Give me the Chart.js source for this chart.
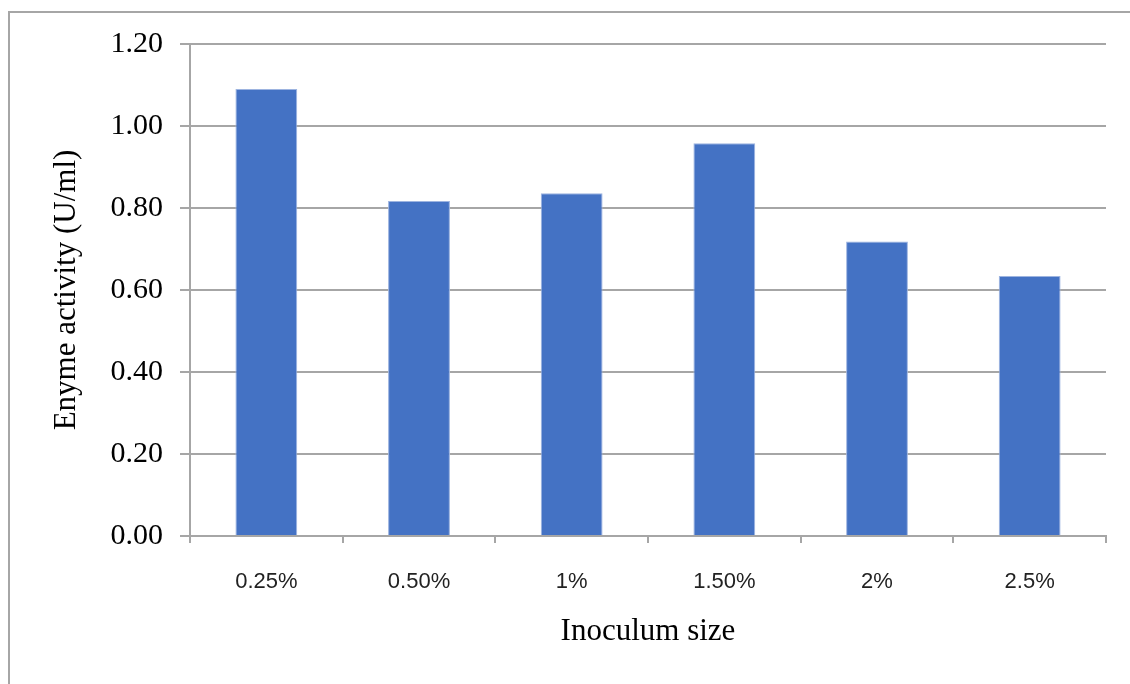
<!DOCTYPE html>
<html>
<head>
<meta charset="utf-8">
<script src="https://cdn.jsdelivr.net/npm/chart.js@4.4.1/dist/chart.umd.min.js"></script>
<style>
  html, body { margin: 0; padding: 0; background: #fff; }
  #wrap { position: relative; width: 1130px; height: 684px; overflow: hidden; }
  #frame { position: absolute; left: 8px; top: 11px; width: 1130px; height: 700px;
           border-top: 2px solid #a6a6a6; border-left: 2px solid #a6a6a6; box-sizing: border-box; }
  #chart { position: absolute; left: 0; top: 0; }
</style>
</head>
<body>
<div id="wrap">
  <div id="frame"></div>
  <canvas id="chart" width="1130" height="684"></canvas>
</div>
<script>
// dados
const categories = ["0.25%", "0.50%", "1%", "1.50%", "2%", "2.5%"];
const activity = [1.09, 0.817, 0.836, 0.958, 0.718, 0.634];
const yTicks = [0, 0.2, 0.4, 0.6, 0.8, 1.0, 1.2];

const xTitle = "Inoculum size";
const yTitle = "Enyme activity (U/ml)";

const ctx = document.getElementById('chart').getContext('2d');

const myBarChart = new Chart(ctx, {
    type: 'bar',
    data: {
        labels: categories,
        datasets: [{
            data: activity,
            backgroundColor: '#4472c4',
            borderColor: '#9db4e0',
            borderWidth: 1,
            categoryPercentage: 1.0,
            barPercentage: 0.405
        }]
    },
    options: {
        responsive: false,
        animation: false,
        layout: {
            padding: { left: 0, top: 44, right: 24, bottom: 0 }
        },
        plugins: {
            legend: { display: false },
            tooltip: { enabled: false }
        },
        scales: {
            x: {
                offset: true,
                grid: {
                    offset: true,
                    drawOnChartArea: false,
                    drawTicks: true,
                    tickLength: 7,
                    color: '#a6a6a6',
                    lineWidth: 2
                },
                border: { color: '#a6a6a6', width: 2 },
                ticks: {
                    color: '#222',
                    padding: 26,
                    font: { family: 'Liberation Sans', size: 22 }
                },
                title: {
                    display: true,
                    text: xTitle,
                    color: '#000',
                    padding: { top: 0, bottom: 34 },
                    font: { family: 'Liberation Serif', size: 31 }
                },
                afterFit: function (scale) {
                    scale.height = 148;
                }
            },
            y: {
                min: 0,
                max: 1.2,
                afterBuildTicks: function (scale) {
                    scale.ticks = yTicks.map(v => ({ value: v }));
                },
                grid: {
                    color: '#a6a6a6',
                    lineWidth: 2,
                    tickLength: 10
                },
                border: { color: '#a6a6a6', width: 2 },
                ticks: {
                    color: '#000',
                    padding: 17,
                    font: { family: 'Liberation Serif', size: 30 },
                    callback: function (value) {
                        return Number(value).toFixed(2);
                    }
                },
                title: {
                    display: true,
                    text: yTitle,
                    color: '#000',
                    padding: { top: 48, bottom: 0 },
                    font: { family: 'Liberation Serif', size: 31 }
                },
                afterFit: function (scale) {
                    scale.width = 190;
                }
            }
        }
    }
});
</script>
</body>
</html>
